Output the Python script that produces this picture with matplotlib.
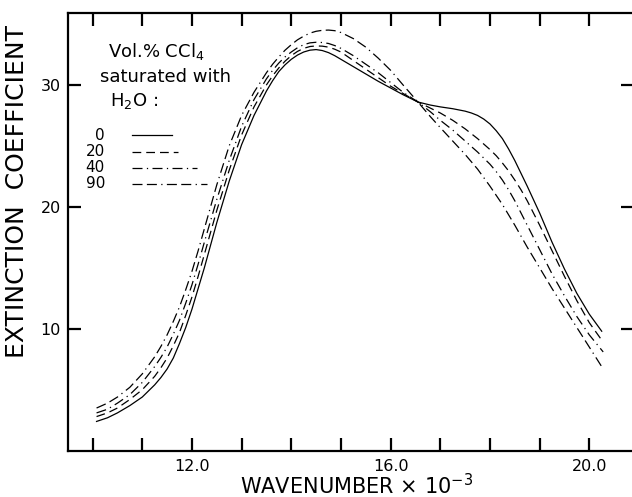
import matplotlib
matplotlib.use("Agg")
import matplotlib.pyplot as plt
from matplotlib.lines import Line2D

plt.rcParams['font.family'] = ['DejaVu Sans']

# ---- data (wavenumber x 10^-3, extinction coefficient) ----
x_common = [10.08, 10.3, 10.5, 10.75, 11.0,
            11.25, 11.375, 11.5, 11.625, 11.75, 11.875, 12.0, 12.125, 12.25,
            12.5, 12.75, 13.0, 13.25,
            13.5, 13.625, 13.75, 13.875, 14.0, 14.125, 14.25, 14.375, 14.5, 14.625, 14.75, 14.875, 15.0,
            15.25, 15.5, 15.75, 16.0, 16.25, 16.55, 16.8, 17.0, 17.25,
            17.5, 17.625, 17.75, 17.875, 18.0, 18.125, 18.25, 18.375, 18.5, 18.625, 18.75,
            19.0, 19.25, 19.5, 19.75, 20.0]

x0 = x_common + [20.25]
y0 = [2.4, 2.7, 3.1, 3.7, 4.4,
      5.4, 6.0, 6.7, 7.6, 8.8, 10.1, 11.6, 13.3, 15.0,
      18.7, 22.1, 25.1, 27.5,
      29.5, 30.35, 31.1, 31.65, 32.1, 32.45, 32.7, 32.85, 32.9, 32.82, 32.65, 32.4, 32.1,
      31.5, 30.9, 30.3, 29.75, 29.2, 28.6, 28.35, 28.2, 28.05,
      27.85, 27.7, 27.5, 27.2, 26.8, 26.25, 25.6, 24.75, 23.8, 22.75, 21.7,
      19.5, 17.1, 14.9, 12.9, 11.2, 9.8]

x20 = x_common + [20.28]
y20 = [2.8, 3.1, 3.5, 4.2, 5.0,
       6.1, 6.8, 7.6, 8.6, 9.7, 11.1, 12.6, 14.3, 16.1,
       19.7, 23.0, 25.9, 28.2,
       30.0, 30.75, 31.4, 31.95, 32.4, 32.75, 33.0, 33.15, 33.2, 33.18, 33.1, 32.93, 32.7,
       32.0, 31.3, 30.6, 29.9, 29.3, 28.6, 28.1, 27.7, 27.1,
       26.4, 26.0, 25.6, 25.15, 24.7, 24.2, 23.6, 22.95, 22.2, 21.4, 20.5,
       18.5, 16.4, 14.3, 12.3, 10.5, 8.9]

x40 = x_common + [20.28]
y40 = [3.1, 3.4, 3.9, 4.6, 5.6,
       6.9, 7.65, 8.5, 9.55, 10.7, 12.1, 13.6, 15.3, 17.1,
       20.6, 23.8, 26.6, 28.8,
       30.5, 31.2, 31.8, 32.3, 32.7, 33.05, 33.3, 33.45, 33.5, 33.48, 33.4, 33.23, 33.0,
       32.4, 31.7, 31.0, 30.2, 29.4, 28.6, 27.8, 27.1, 26.3,
       25.4, 24.95, 24.5, 24.0, 23.5, 22.9, 22.2, 21.4, 20.5, 19.5, 18.5,
       16.5, 14.5, 12.7, 11.0, 9.5, 8.1]

x90 = x_common + [20.28]
y90 = [3.5, 3.9, 4.4, 5.2, 6.3,
       7.7, 8.55, 9.5, 10.6, 11.8, 13.2, 14.7, 16.4, 18.2,
       21.8, 25.0, 27.5, 29.4,
       31.0, 31.7, 32.3, 32.85, 33.3, 33.7, 34.0, 34.25, 34.4, 34.48, 34.5, 34.45, 34.3,
       33.8, 33.1, 32.2, 31.2, 30.0, 28.6, 27.4, 26.5, 25.4,
       24.3, 23.7, 23.1, 22.4, 21.7, 20.95, 20.2, 19.35, 18.5, 17.6, 16.7,
       15.0, 13.3, 11.7, 10.1, 8.5, 6.7]

series_labels = ["0", "20", "40", "90"]
x_major = [10, 11, 12, 13, 14, 15, 16, 17, 18, 19, 20]
x_labels = ["", "", "12.0", "", "", "", "16.0", "", "", "", "20.0"]
y_major = [10, 20, 30]
y_labels = ["10", "20", "30"]

W, H = 632, 497
fig = plt.figure(figsize=(W / 100, H / 100), dpi=100)
ax = fig.add_axes([68 / W, 1 - 450.7 / H, (634 - 68) / W, (450.7 - 13) / H])
ax.set_xlim(9.505, 20.9)
ax.set_ylim(0, 35.9)

lw = 0.9
styles = [
    dict(linestyle='-'),
    dict(linestyle=(0, (7, 4))),
    dict(linestyle=(0, (8, 3.5, 1, 3.5))),
    dict(linestyle=(0, (8, 3.5, 8, 3.5, 1, 3.5))),
]
data = [(x0, y0), (x20, y20), (x40, y40), (x90, y90)]
for (xs, ys), st in zip(data, styles):
    ax.plot(xs, ys, color='black', lw=lw, solid_joinstyle='round', **st)

# spines / ticks
for s in ax.spines.values():
    s.set_linewidth(1.6)
ax.set_xticks(x_major)
ax.set_xticklabels(x_labels)
ax.set_yticks(y_major)
ax.set_yticklabels(y_labels)
ax.tick_params(axis='both', direction='in', length=9.5, width=1.6,
               top=True, right=True, labelsize=11.5, pad=6, colors='black')
ax.tick_params(axis='y', pad=5)

# axis labels
fig.text(17 / W, 1 - 191 / H, "EXTINCTION  COEFFICIENT", rotation=90,
         ha='center', va='center', fontsize=18)
fig.text(357 / W, 1 - 494 / H, r"WAVENUMBER $\times$ 10$^{-3}$",
         ha='center', va='baseline', fontsize=15)

# legend block
def fx(px):
    return px / W

def fy(py):
    return 1 - py / H

fig.text(fx(108), fy(52), r"Vol.% CCl$_4$", fontsize=13, va='center', ha='left')
fig.text(fx(100), fy(77), "saturated with", fontsize=13, va='center', ha='left')
fig.text(fx(110), fy(101), r"H$_2$O :", fontsize=13, va='center', ha='left')

leg_y = [135, 152, 168, 184]
leg_x1 = [172, 178, 197, 207]
for lab, py, x1, st in zip(series_labels, leg_y, leg_x1, styles):
    fig.text(fx(105), fy(py), lab, fontsize=11, va='center', ha='right')
    fig.add_artist(Line2D([fx(132), fx(x1)], [fy(py), fy(py)], color='black',
                          lw=lw, transform=fig.transFigure, **st))

fig.savefig("out.png", dpi=100)
